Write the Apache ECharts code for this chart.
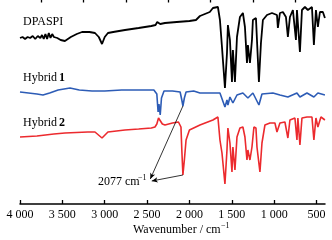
<!DOCTYPE html>
<html>
<head>
<meta charset="utf-8">
<script src="https://cdn.jsdelivr.net/npm/echarts@6/dist/echarts.min.js"></script>
<style>
html,body{margin:0;padding:0;background:#fff;}
#main{width:332px;height:240px;}
</style>
</head>
<body>
<div id="main"></div>
<script>
// wavenumber / cm-1 , relative transmittance (offset traces)
let dpaspi = [
  [4000,166],[3970,167],[3940,165],[3910,167],[3880,166],[3850,168],[3820,165],[3790,168],
  [3760,166],[3740,169],[3720,165],[3700,170],[3680,165],[3660,171],[3640,166],[3620,170],
  [3600,167],[3560,166],[3520,164],[3470,163],[3400,167],[3330,170],[3268,172],[3180,172],
  [3115,171],[3070,167],[3032,160],[3000,167],[2962,171],[2900,172],[2761,174],[2600,176],
  [2450,178],[2400,179],[2380,182],[2365,184],[2345,180],[2330,181],[2289,181],[2150,182],
  [2000,183],[1923,184],[1876,188],[1760,192],[1723,196],[1664,197],[1640,184],[1616,157],
  [1605,144],[1581,116],[1557,151],[1546,179],[1522,164],[1498,122],[1487,154],[1463,122],
  [1439,167],[1404,187],[1369,191],[1345,177],[1321,141],[1310,159],[1286,141],[1262,164],
  [1251,184],[1215,186],[1203,164],[1180,122],[1156,161],[1133,184],[1085,189],[1026,191],
  [967,189],[956,176],[932,191],[897,192],[861,187],[838,167],[814,187],[779,194],
  [743,164],[731,194],[696,152],[672,194],[637,197],[602,194],[554,197],[531,159],
  [507,194],[484,177],[460,192],[425,192],[401,186]
];
let hybrid1 = [
  [4000,112],[3900,111],[3800,110],[3729,109],[3650,111],[3550,114],[3410,116],[3300,114],
  [3150,113],[3000,113],[2800,114],[2600,114],[2420,114],[2385,110],[2370,92],[2360,100],
  [2345,89],[2330,106],[2300,113],[2200,113],[2110,112],[2090,104],[2077,98],[2060,106],
  [2040,112],[1950,113],[1876,111],[1640,111],[1581,97],[1557,104],[1546,99],[1522,107],
  [1487,101],[1439,109],[1369,111],[1310,106],[1251,111],[1180,99],[1144,110],[1015,111],
  [932,109],[838,107],[731,111],[696,107],[613,111],[531,107],[484,111],[401,109]
];
let hybrid2 = [
  [4000,67],[3800,68],[3600,70],[3469,71],[3200,72],[3115,72],[3032,66],[2962,72],
  [2761,74],[2600,75],[2450,76],[2407,77],[2385,80],[2365,86],[2345,84],[2320,80],
  [2289,79],[2200,81],[2130,82],[2100,77],[2090,54],[2077,29],[2060,44],[2040,64],
  [2000,74],[1876,79],[1723,84],[1664,87],[1640,64],[1616,51],[1581,20],[1557,54],
  [1546,76],[1522,61],[1498,32],[1487,57],[1463,34],[1439,67],[1404,76],[1369,77],
  [1345,67],[1321,44],[1310,54],[1286,44],[1262,57],[1239,77],[1215,76],[1203,57],
  [1168,32],[1144,61],[1109,79],[1050,81],[991,81],[967,72],[932,81],[873,82],
  [838,66],[814,84],[755,86],[731,64],[720,86],[696,59],[672,86],[613,87],
  [554,87],[531,64],[507,86],[484,77],[448,87],[425,88],[401,84]
];
let majorTicks = [4000,3500,3000,2500,2000,1500,1000,500];
let minorTicks = [3750,3250,2750,2250,1750,1250,750];
let peakLabel = '2077';

function fmt(v){
  let s = String(v);
  if(s.length > 3) s = s.slice(0, s.length-3) + ' ' + s.slice(-3);
  return s;
}

let serif = '"Liberation Serif"';
let chart = echarts.init(document.getElementById('main'));
let option = {
  backgroundColor:'#fff',
  animation:false,
  grid:{left:20, right:7, top:0, bottom:36},
  xAxis:[{
    type:'value', inverse:true, min:400, max:4000,
    axisLine:{lineStyle:{color:'#000', width:1.5}},
    axisTick:{inside:true, length:4, customValues:majorTicks, lineStyle:{color:'#000', width:1.3}},
    axisLabel:{customValues:majorTicks, formatter:fmt, color:'#000', fontFamily:'Liberation Serif', fontSize:12, margin:5},
    splitLine:{show:false}
  },{
    type:'value', inverse:true, min:400, max:4000,
    axisLine:{show:false},
    axisTick:{inside:true, length:2.5, customValues:minorTicks, lineStyle:{color:'#000', width:1.3}},
    axisLabel:{show:false},
    splitLine:{show:false}
  }],
  yAxis:{type:'value', min:0, max:204, show:false},
  series:[
    {name:'DPASPI', type:'line', data:dpaspi, showSymbol:false, lineStyle:{color:'#000', width:1.8}},
    {name:'Hybrid 1', type:'line', data:hybrid1, showSymbol:false, lineStyle:{color:'#2d5cb6', width:1.6}},
    {name:'Hybrid 2', type:'line', data:hybrid2, showSymbol:false, lineStyle:{color:'#ec2a2e', width:1.6},
     markLine:{
       silent:true, symbol:['none','arrow'], symbolSize:[4,6],
       label:{show:false},
       lineStyle:{color:'#000', width:0.8, type:'solid'},
       data:[
         [{coord:[2077,98]},{coord:[2462,25]}],
         [{coord:[2077,29]},{coord:[2445,23]}]
       ]
     }}
  ],
  graphic:[
    {type:'text', left:23, top:16, style:{text:'DPASPI', fill:'#000', font:'12px ' + serif}},
    {type:'text', left:23, top:72, style:{text:'Hybrid', fill:'#000', font:'12px ' + serif}},
    {type:'text', left:59, top:72, style:{text:'1', fill:'#000', font:'bold 12px ' + serif}},
    {type:'text', left:23, top:117, style:{text:'Hybrid', fill:'#000', font:'12px ' + serif}},
    {type:'text', left:59, top:117, style:{text:'2', fill:'#000', font:'bold 12px ' + serif}},
    {type:'text', left:98, top:176, style:{text:peakLabel + ' cm', fill:'#000', font:'12px ' + serif}},
    {type:'text', left:138, top:174, style:{text:'−1', fill:'#000', font:'8px ' + serif}},
    {type:'text', left:133, top:224, style:{text:'Wavenumber / cm', fill:'#000', font:'12px ' + serif}},
    {type:'text', left:221, top:222, style:{text:'−1', fill:'#000', font:'8px ' + serif}}
  ]
};
chart.setOption(option);
</script>
</body>
</html>
